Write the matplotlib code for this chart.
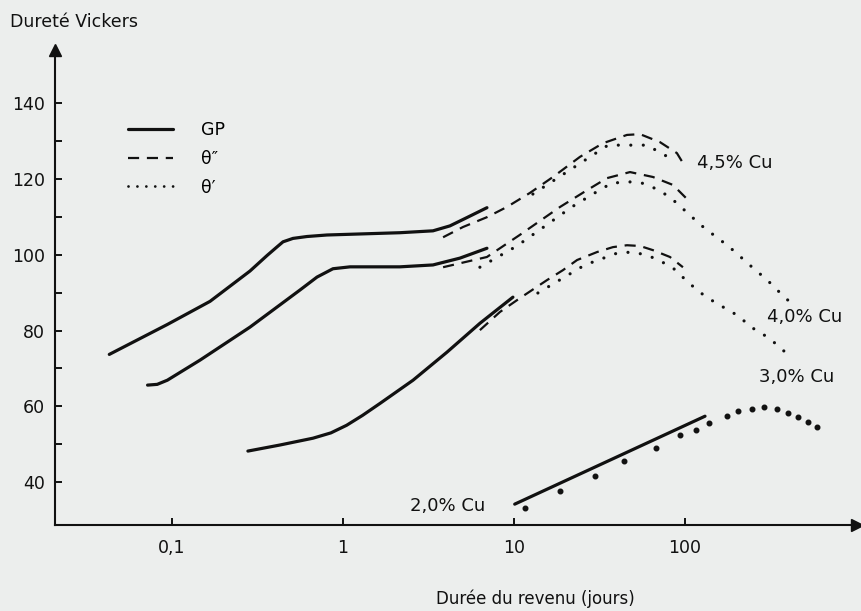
import matplotlib
matplotlib.use("Agg")
import matplotlib.pyplot as plt
from matplotlib.lines import Line2D
from matplotlib.ticker import FixedLocator, NullLocator, FixedFormatter

# ── data (time in days, Vickers hardness) ──
GP_45_T = [0.043, 0.094, 0.167, 0.286, 0.360, 0.410, 0.446, 0.510, 0.616, 0.806,
           2.15, 3.36, 4.22, 5.31, 6.95]
GP_45_HV = [73.7, 81.6, 87.7, 95.7, 99.8, 102.0, 103.4, 104.3, 104.8, 105.2,
            105.8, 106.3, 107.6, 109.8, 112.4]
TH2_45_T = [3.85, 5.03, 6.95, 9.10, 12.4, 16.9, 24.3, 33.1, 45.8, 54.6, 71.4, 89.7, 97.3]
TH2_45_HV = [104.6, 107.3, 109.9, 112.6, 116.3, 120.5, 125.8, 129.4, 131.6, 131.8, 129.7, 126.8, 124.2]
TH1_45_T = [12.9, 35.5, 59.9, 81.7]
TH1_45_HV = [116.0, 128.9, 128.9, 125.5]

GP_40_T = [0.072, 0.082, 0.094, 0.146, 0.286, 0.561, 0.705, 0.874, 1.10, 2.15, 3.36,
           4.83, 6.95]
GP_40_HV = [65.6, 65.8, 66.9, 72.2, 80.9, 90.7, 94.1, 96.3, 96.8, 96.8, 97.3,
            99.1, 101.7]
TH2_40_T = [3.85, 6.95, 10.8, 18.6, 26.7, 35.0, 47.7, 65.0, 85.1, 107]
TH2_40_HV = [96.7, 99.4, 105.2, 112.6, 117.0, 120.2, 121.8, 120.5, 118.4, 113.9]
TH1_40_T = [6.32, 10.4, 15.8, 21.8, 29.7, 37.3, 47.7, 56.0, 68.6, 79.5, 89.7, 107,
            134, 154, 191, 250, 303, 346, 411]
TH1_40_HV = [96.7, 102.3, 108.1, 112.6, 116.3, 118.9, 119.2, 118.9, 117.3, 115.5, 113.6,
             110.4, 106.5, 104.6, 101.2, 96.5, 93.3, 90.7, 87.5]

GP_30_T = [0.278, 0.428, 0.668, 0.85, 1.05, 1.30, 1.65, 2.57, 4.06, 6.32, 9.86]
GP_30_HV = [48.2, 49.8, 51.6, 53.0, 55.0, 57.6, 60.8, 66.9, 74.3, 81.9, 88.8]
TH2_30_T = [6.32, 8.28, 10.8, 15.6, 19.3, 23.4, 30.6, 37.9, 45.8, 54.6, 65.0, 81.7, 97.3]
TH2_30_HV = [80.1, 84.9, 88.5, 93.3, 95.9, 98.6, 100.7, 102.0, 102.5, 102.3, 101.2, 99.4, 96.7]
TH1_30_T = [13.8, 26.0, 40.0, 49.0, 60.0, 69.7, 84.2, 104, 122, 143, 167, 201, 250,
            303, 360, 411]
TH1_30_HV = [89.9, 97.3, 100.4, 100.7, 99.9, 98.6, 96.7, 92.8, 90.1, 88.0, 86.2, 84.1,
             80.6, 78.3, 75.6, 73.0]

GP_20_T = [10.1, 131]
GP_20_HV = [34.2, 57.4]
TH1_20_T = [11.6, 18.6, 29.7, 44.1, 67.9, 93.5, 116, 138, 176, 204, 245, 290, 345,
            399, 459, 526, 590]
TH1_20_HV = [33.1, 37.6, 41.6, 45.5, 49.0, 52.4, 53.7, 55.6, 57.4, 58.7, 59.3, 59.8,
             59.3, 58.2, 57.1, 55.8, 54.5]

X_TICKS = [0.1, 1, 10, 100]
X_TICK_LABELS = ["0,1", "1", "10", "100"]
Y_TICKS = [40, 60, 80, 100, 120, 140]
Y_MINOR = [50, 70, 90, 110, 130]

# curve labels: (text, day, hardness, alignment)
CURVE_LABELS = [
    ("4,5% Cu", 117, 124.2, "left"),
    ("4,0% Cu", 300, 83.5, "left"),
    ("3,0% Cu", 272, 67.7, "left"),
    ("2,0% Cu", 6.8, 33.6, "right"),
]

BG = "#eceeed"
INK = "#111111"
FONT = "DejaVu Sans"

SOLID = dict(color=INK, lw=2.3, solid_capstyle="round", solid_joinstyle="round")
DASHED = dict(color=INK, lw=1.6, linestyle=(0, (5, 3.5)), dash_capstyle="butt")
DOTTED = dict(color=INK, lw=2.3, linestyle=(0, (0.01, 3.9)), dash_capstyle="round")

fig = plt.figure(figsize=(8.62, 6.11), dpi=100, facecolor=BG)
ax = fig.add_axes([55 / 862, 86 / 611, 802 / 862, 475 / 611])
ax.set_facecolor(BG)
ax.set_xscale("log")
ax.set_xlim(0.0207, 1014)
ax.set_ylim(28.7, 154)

# GP zones (solid)
for t, hv in [(GP_45_T, GP_45_HV), (GP_40_T, GP_40_HV),
              (GP_30_T, GP_30_HV), (GP_20_T, GP_20_HV)]:
    ax.plot(t, hv, **SOLID)

# theta'' (dashed)
for t, hv in [(TH2_45_T, TH2_45_HV), (TH2_40_T, TH2_40_HV), (TH2_30_T, TH2_30_HV)]:
    ax.plot(t, hv, **DASHED)

# theta' (dotted)
for t, hv in [(TH1_45_T, TH1_45_HV), (TH1_40_T, TH1_40_HV), (TH1_30_T, TH1_30_HV)]:
    ax.plot(t, hv, **DOTTED)
ax.plot(TH1_20_T, TH1_20_HV, linestyle="none", marker="o", ms=3.3, color=INK, mec=INK)

for txt, t, hv, ha in CURVE_LABELS:
    ax.text(t, hv, txt, ha=ha, va="center", fontsize=13, family=FONT, color=INK)

# axes styling
for side in ["top", "right"]:
    ax.spines[side].set_visible(False)
for side in ["left", "bottom"]:
    ax.spines[side].set_linewidth(1.5)
    ax.spines[side].set_color(INK)

ax.xaxis.set_major_locator(FixedLocator(X_TICKS))
ax.xaxis.set_major_formatter(FixedFormatter(X_TICK_LABELS))
ax.xaxis.set_minor_locator(NullLocator())
ax.set_yticks(Y_TICKS)
ax.yaxis.set_minor_locator(FixedLocator(Y_MINOR))
ax.tick_params(axis="both", which="both", direction="in", length=5, width=1.4,
               colors=INK, labelsize=12.5)
ax.tick_params(axis="x", pad=10)
ax.tick_params(axis="y", pad=7)
for lab in ax.get_xticklabels() + ax.get_yticklabels():
    lab.set_family(FONT)

# arrow heads on the axes
ax.plot(1, 0, ">", color=INK, ms=9, transform=ax.transAxes, clip_on=False)
ax.plot(0, 1, "^", color=INK, ms=9, transform=ax.transAxes, clip_on=False)

ax.set_xlabel("Durée du revenu (jours)", fontsize=12, family=FONT, color=INK)
ax.xaxis.set_label_coords(480 / 802, -0.135)
fig.text(10 / 862, 1 - 22 / 611, "Dureté Vickers", ha="left", va="center",
         fontsize=12.5, family=FONT, color=INK)

handles = [Line2D([], [], **SOLID), Line2D([], [], **DASHED),
           Line2D([], [], color=INK, lw=2.0, linestyle=(0, (0.01, 3.2)), dash_capstyle="round")]
leg = ax.legend(handles, ["GP", "θ″", "θ′"], loc="upper left",
                bbox_to_anchor=(128 / 862, 1 - 121 / 611), bbox_transform=fig.transFigure,
                frameon=False, handlelength=2.6, handletextpad=1.6, labelspacing=0.62,
                borderpad=0, borderaxespad=0, prop={"family": FONT, "size": 12.5})

fig.savefig("out.png", dpi=100, facecolor=BG)
